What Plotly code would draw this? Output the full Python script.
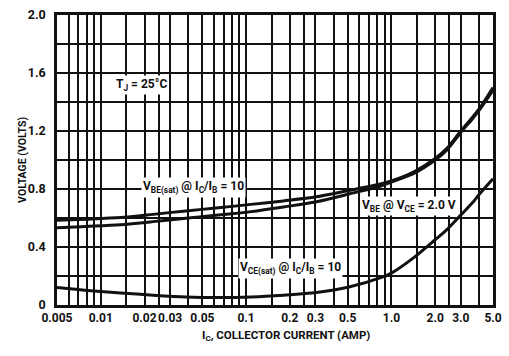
import math
import plotly.graph_objects as go

# ---- data ----
ic_vbe_sat = [0.005, 0.008, 0.0137, 0.0229, 0.0384, 0.0644, 0.108, 0.181, 0.305, 0.51, 0.855, 1.0, 1.44, 2.0, 2.41, 3.0, 3.65, 4.0, 5.0]
v_vbe_sat  = [0.585, 0.592, 0.603, 0.625, 0.649, 0.670, 0.694, 0.718, 0.746, 0.790, 0.836, 0.855, 0.92, 1.01, 1.08, 1.20, 1.30, 1.35, 1.50]

ic_vbe = [0.005, 0.008, 0.0137, 0.0229, 0.0384, 0.0644, 0.108, 0.181, 0.305, 0.51, 0.855, 1.0, 1.44, 2.0, 2.41, 3.0, 3.65, 4.0, 5.0]
v_vbe  = [0.533, 0.542, 0.554, 0.575, 0.599, 0.620, 0.644, 0.676, 0.712, 0.765, 0.822, 0.848, 0.91, 1.00, 1.07, 1.19, 1.29, 1.34, 1.48]

ic_vce_sat = [0.005, 0.0081, 0.0137, 0.0229, 0.0384, 0.0644, 0.108, 0.181, 0.305, 0.51, 0.855, 1.0, 1.44, 2.0, 2.41, 3.0, 3.65, 4.0, 5.0]
v_vce_sat  = [0.120, 0.100, 0.083, 0.068, 0.056, 0.052, 0.056, 0.068, 0.086, 0.124, 0.19, 0.22, 0.33, 0.45, 0.52, 0.62, 0.71, 0.76, 0.87]

x_grid = [0.005, 0.006, 0.007, 0.008, 0.009, 0.01, 0.015, 0.02, 0.025, 0.03, 0.04,
          0.05, 0.06, 0.07, 0.08, 0.09, 0.1, 0.15, 0.2, 0.25, 0.3, 0.4,
          0.5, 0.6, 0.7, 0.8, 0.9, 1.0, 1.5, 2.0, 2.5, 3.0, 4.0, 5.0]
x_tickvals = [0.005, 0.01, 0.02, 0.03, 0.05, 0.1, 0.2, 0.3, 0.5, 1.0, 2.0, 3.0, 5.0]
x_ticktext = ["0.005", "0.01", "0.02", "0.03", "0.05", "0.1", "0.2", "0.3", "0.5", "1.0", "2.0", "3.0", "5.0"]
y_grid = [0.0, 0.2, 0.4, 0.6, 0.8, 1.0, 1.2, 1.4, 1.6, 1.8, 2.0]
y_tickvals = [0.0, 0.4, 0.8, 1.2, 1.6, 2.0]
y_ticktext = ["0", "0.4", "0.8", "1.2", "1.6", "2.0"]

FONT = "Roboto, Liberation Sans, sans-serif"
INK = "#111111"

fig = go.Figure()
for xs, ys in [(ic_vbe_sat, v_vbe_sat), (ic_vbe, v_vbe), (ic_vce_sat, v_vce_sat)]:
    fig.add_trace(go.Scatter(x=xs, y=ys, mode="lines",
                             line=dict(color=INK, width=3, shape="spline", smoothing=0.8),
                             showlegend=False, hoverinfo="skip"))

fig.update_xaxes(type="log", range=[math.log10(0.005), math.log10(5.0)],
                 tickmode="array", tickvals=x_tickvals, ticktext=x_ticktext,
                 tickangle=0,
                 showgrid=True, gridcolor=INK, gridwidth=1.6,
                 minor=dict(tickmode="array", tickvals=x_grid, showgrid=True,
                            gridcolor=INK, gridwidth=1.6, ticks=""),
                 showline=True, linecolor=INK, linewidth=2.5, mirror=True,
                 ticks="", zeroline=False, ticklabelstandoff=0,
                 tickfont=dict(family=FONT, size=12, color=INK, weight="bold"))
fig.update_yaxes(range=[0, 2.0], tickmode="array", tickvals=y_tickvals, ticktext=y_ticktext,
                 showgrid=True, gridcolor=INK, gridwidth=1.6,
                 minor=dict(tickmode="array", tickvals=y_grid, showgrid=True,
                            gridcolor=INK, gridwidth=1.6, ticks=""),
                 showline=True, linecolor=INK, linewidth=2.5, mirror=True,
                 ticks="", zeroline=False, ticklabelstandoff=6,
                 tickfont=dict(family=FONT, size=12.5, color=INK, weight="bold"))

afont = dict(family=FONT, size=12, color=INK, weight="bold")
notes = [
    (0.0190, 1.52, "T<sub>J</sub> = 25°C"),
    (0.0433, 0.81, "V<sub>BE(sat)</sub> @ I<sub>C</sub>/I<sub>B</sub> = 10"),
    (1.318, 0.685, "V<sub>BE</sub> @ V<sub>CE</sub> = 2.0 V"),
    (0.201, 0.25, "V<sub>CE(sat)</sub> @ I<sub>C</sub>/I<sub>B</sub> = 10"),
]
for x, y, t in notes:
    fig.add_annotation(x=math.log10(x), y=y, xref="x", yref="y", text=t,
                       showarrow=False, font=afont, bgcolor="white", borderpad=1)

fig.add_annotation(x=0.526, y=-0.138, xref="paper", yref="paper",
                   text="I<sub>C</sub>, COLLECTOR CURRENT (AMP)", showarrow=False,
                   font=dict(family=FONT, size=11.5, color=INK, weight="bold"))
fig.add_annotation(x=-0.1, y=0.5, xref="paper", yref="paper",
                   text="VOLTAGE (VOLTS)", showarrow=False, textangle=-90,
                   font=dict(family=FONT, size=10.5, color=INK, weight="bold"))

fig.update_layout(width=509, height=356, margin=dict(l=57, r=7, t=10, b=51),
                  paper_bgcolor="white", plot_bgcolor="white")
fig.write_html("out.html", config={"displayModeBar": False},
               post_script="document.body.style.margin='0';document.body.style.padding='0';")
